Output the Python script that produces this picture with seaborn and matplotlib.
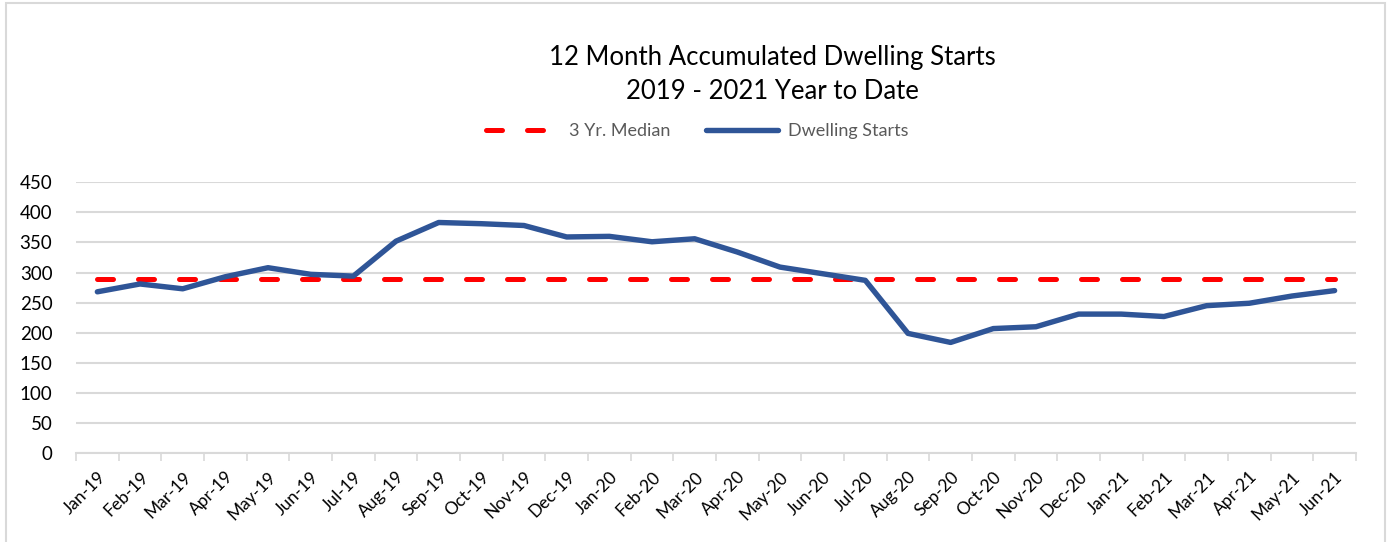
#!/usr/bin/env python
"""12 month accumulated dwelling starts, 2019 - 2021 YTD, with the 3 yr median."""
import numpy as np
import pandas as pd
import matplotlib
matplotlib.use("Agg")
import matplotlib.pyplot as plt
from matplotlib.patches import Rectangle
import seaborn as sns

months = [
    "Jan-19", "Feb-19", "Mar-19", "Apr-19", "May-19", "Jun-19", "Jul-19", "Aug-19",
    "Sep-19", "Oct-19", "Nov-19", "Dec-19", "Jan-20", "Feb-20", "Mar-20", "Apr-20",
    "May-20", "Jun-20", "Jul-20", "Aug-20", "Sep-20", "Oct-20", "Nov-20", "Dec-20",
    "Jan-21", "Feb-21", "Mar-21", "Apr-21", "May-21", "Jun-21",
]
dwelling_starts = [
    268, 281, 273, 293, 308, 297, 294, 352, 383, 381,
    378, 359, 360, 351, 356, 334, 309, 298, 287, 199,
    184, 207, 210, 231, 231, 227, 245, 249, 261, 270,
]
median_3yr = [289] * len(months)
y_ticks = [0, 50, 100, 150, 200, 250, 300, 350, 400, 450]

BLUE = "#2F5597"
RED = "#FF0000"
GRID = "#D9D9D9"

df = pd.DataFrame({
    "pos": np.arange(len(months)),
    "month": months,
    "starts": dwelling_starts,
    "median": median_3yr,
})

sns.set_theme(style="white")
plt.rcParams["font.family"] = ["Lato", "DejaVu Sans"]

fig = plt.figure(figsize=(13.95, 5.42), dpi=100)
ax = fig.add_axes([0.0545, 0.1636, 0.9175, 0.5004])

sns.lineplot(data=df, x="pos", y="median", ax=ax, color=RED, lw=3.6,
             dashes=False, label="3 Yr. Median", zorder=3)
med_line = ax.lines[-1]
med_line.set_dashes((3.2, 5.0))
med_line.set_dash_capstyle("round")
sns.lineplot(data=df, x="pos", y="starts", ax=ax, color=BLUE, lw=3.9,
             label="Dwelling Starts", zorder=4)
ax.lines[-1].set_solid_capstyle("round")
ax.lines[-1].set_solid_joinstyle("round")

ax.set_xlim(-0.5, len(months) - 0.5)
ax.set_ylim(0, 450)
ax.set_yticks(y_ticks)
ax.yaxis.grid(True, color=GRID, lw=1.5)
ax.set_axisbelow(True)
ax.set_xlabel("")
ax.set_ylabel("")

ax.set_xticks(df["pos"])
ax.set_xticklabels(months, rotation=45, ha="right", rotation_mode="anchor")
ax.set_xticks(np.arange(-0.5, len(months), 1), minor=True)
ax.tick_params(axis="x", which="major", length=0, pad=11, labelsize=12.5, colors="#000000")
ax.tick_params(axis="x", which="minor", length=6, width=1.2, color=GRID, bottom=True)
ax.tick_params(axis="y", length=0, pad=17, labelsize=13.5, colors="#000000")

for side in ["top", "right", "left"]:
    ax.spines[side].set_visible(False)
ax.spines["bottom"].set_color(GRID)
ax.spines["bottom"].set_linewidth(1.5)

handles, labels = ax.get_legend_handles_labels()
ax.get_legend().remove()
fig.legend(handles, labels, loc="center", bbox_to_anchor=(0.50, 0.758), ncol=2,
           frameon=False, fontsize=13, handlelength=4.0, columnspacing=2.0,
           handletextpad=0.55, labelcolor="#595959")

fig.text(0.554, 0.894, "12 Month Accumulated Dwelling Starts", ha="center",
         va="center", fontsize=18.5, color="#000000")
fig.text(0.554, 0.831, "2019 - 2021 Year to Date", ha="center", va="center",
         fontsize=18.5, color="#000000")

# chart area border
fig.patches.append(Rectangle((6 / 1395, -0.05), 1379 / 1395, 1.044,
                             transform=fig.transFigure, fill=False,
                             edgecolor="#D9D9D9", lw=1.5))

fig.savefig("out.png", dpi=100)
